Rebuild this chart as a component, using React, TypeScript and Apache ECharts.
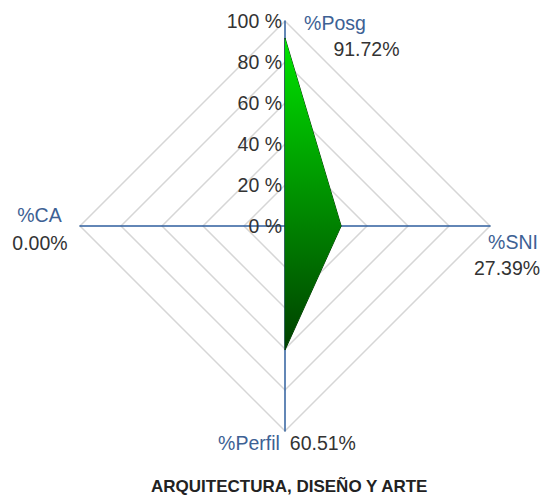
import { useEffect, useRef } from 'react';
import * as echarts from 'echarts';

// radar runs counter-clockwise from the top: Posg (top), CA (left), Perfil (bottom), SNI (right)
const indicators = ['%Posg', '%CA', '%Perfil', '%SNI'];
const values = [91.72, 0.0, 60.51, 27.39];
const axisMin = 0;
const axisMax = 100;
const axisSplits = 5;
const titleText = 'ARQUITECTURA, DISEÑO Y ARTE';

const FONT = '"Liberation Sans", Arial, Helvetica, sans-serif';
const NAME_COLOR = '#3d6194';
const TEXT_COLOR = '#333333';
const LABEL_SIZE = 19.5;

// label placement per indicator: padding [top, right, bottom, left] of name and value tokens
const nameLayouts: Record<string, { inline: boolean; name: number[]; value: number[] }> = {
  '%Posg': { inline: false, name: [30, 0, 0, 100], value: [0, 0, 0, 163] },
  '%SNI': { inline: false, name: [58, 0, 0, 46], value: [0, 0, 0, 34] },
  '%Perfil': { inline: true, name: [24, 0, 0, 4], value: [24, 0, 0, 10] },
  '%CA': { inline: false, name: [6, 81, 0, 0], value: [2, 80, 0, 0] },
};

export default function App() {
  const ref = useRef<HTMLDivElement>(null);

  useEffect(() => {
    if (!ref.current) return;
    const chart = echarts.init(ref.current, undefined, { renderer: 'svg' });

    const rich: Record<string, any> = {};
    indicators.forEach((name, i) => {
      const l = nameLayouts[name];
      rich['n' + i] = {
        color: NAME_COLOR,
        fontSize: LABEL_SIZE,
        fontFamily: FONT,
        height: 26,
        padding: l.name,
      };
      rich['v' + i] = {
        color: TEXT_COLOR,
        fontSize: LABEL_SIZE,
        fontFamily: FONT,
        height: 26,
        padding: l.value,
      };
    });

    const option: any = {
      animation: false,
      title: {
        text: titleText,
        left: 146,
        top: 473,
        textStyle: {
          fontSize: 17,
          fontWeight: 'bold',
          color: '#222222',
          fontFamily: FONT,
        },
      },
      radar: {
        center: [285, 226],
        radius: 205,
        startAngle: 90,
        shape: 'polygon',
        splitNumber: axisSplits,
        nameGap: 0,
        indicator: indicators.map((name, i) => {
          const ind: any = { name, min: axisMin, max: axisMax };
          if (i === 0) {
            ind.axisLabel = {
              show: true,
              formatter: '{value} %',
              fontSize: LABEL_SIZE,
              fontFamily: FONT,
              color: TEXT_COLOR,
              margin: 3,
              padding: [5, 0, 0, 0],
            };
          }
          return ind;
        }),
        axisName: {
          align: 'center',
          verticalAlign: 'middle',
          fontSize: LABEL_SIZE,
          fontFamily: FONT,
          color: NAME_COLOR,
          rich,
          formatter: (name: string) => {
            const i = indicators.indexOf(name);
            const v = values[i].toFixed(2) + '%';
            return nameLayouts[name].inline
              ? `{n${i}|${name}}{v${i}|${v}}`
              : `{n${i}|${name}}\n{v${i}|${v}}`;
          },
        },
        axisLine: { show: true, lineStyle: { color: '#2f5f9e', width: 1.5 } },
        axisTick: { show: false },
        axisLabel: { show: false },
        splitLine: { show: true, lineStyle: { color: '#d6d6d6', width: 1.5 } },
        splitArea: { show: false },
      },
      series: [
        {
          type: 'radar',
          symbol: 'none',
          silent: true,
          lineStyle: { color: '#003a00', width: 1 },
          areaStyle: {
            opacity: 1,
            color: new echarts.graphic.LinearGradient(0, 0, 0, 1, [
              { offset: 0, color: '#00e400' },
              { offset: 1, color: '#004000' },
            ]),
          },
          data: [{ value: values, name: titleText }],
        },
      ],
    };

    chart.setOption(option);
    return () => chart.dispose();
  }, []);

  return (
    <div
      ref={ref}
      style={{ position: 'fixed', left: 0, top: 0, width: 543, height: 495, background: '#ffffff' }}
    />
  );
}
